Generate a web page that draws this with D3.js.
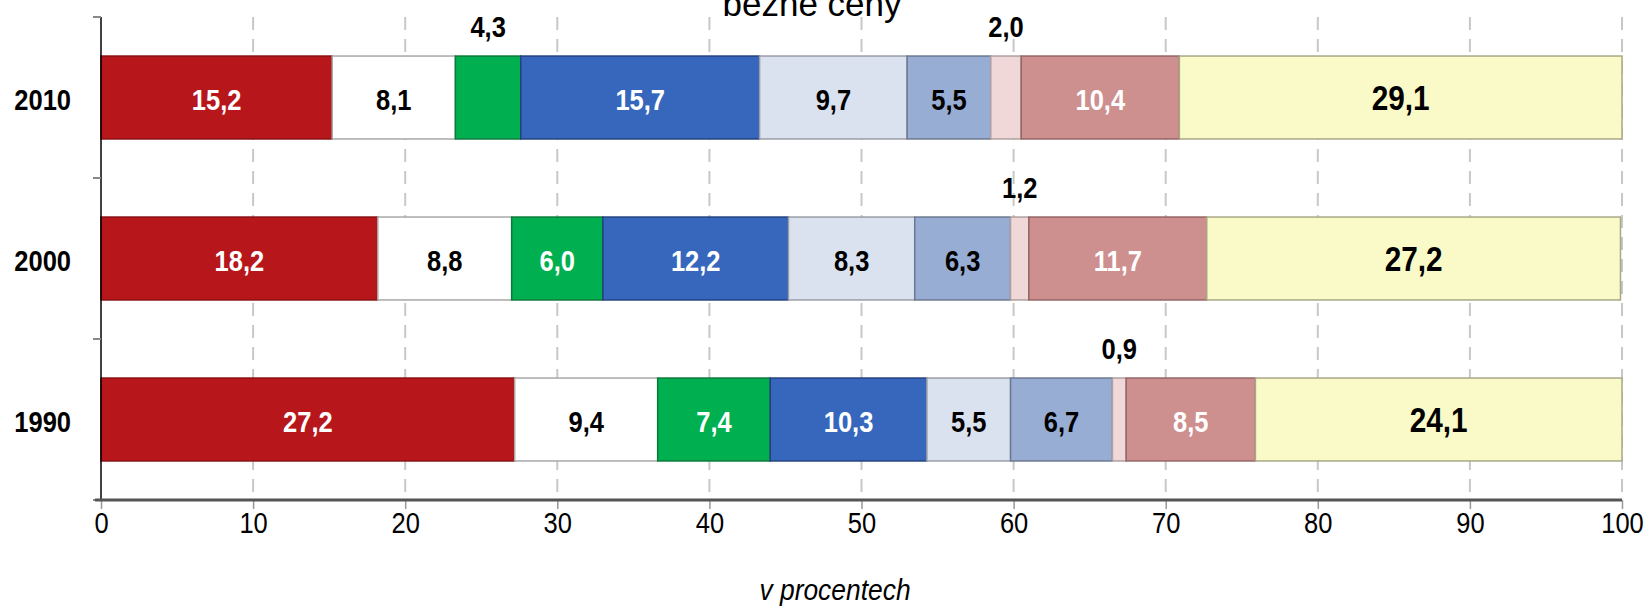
<!DOCTYPE html>
<html>
<head>
<meta charset="utf-8">
<script src="https://cdn.jsdelivr.net/npm/d3@7"></script>
<style>
body { margin: 0; background: #fff; }
svg text { font-family: "Liberation Sans", Arial, sans-serif; }
</style>
</head>
<body>
<svg id="chart" width="1646" height="610"></svg>
<script>
// data
var years = ["2010", "2000", "1990"];
var values2010 = [15.2, 8.1, 4.3, 15.7, 9.7, 5.5, 2.0, 10.4, 29.1];
var values2000 = [18.2, 8.8, 6.0, 12.2, 8.3, 6.3, 1.2, 11.7, 27.2];
var values1990 = [27.2, 9.4, 7.4, 10.3, 5.5, 6.7, 0.9, 8.5, 24.1];
var xTicks = [0, 10, 20, 30, 40, 50, 60, 70, 80, 90, 100];
var chartTitle = "běžné ceny";
var xTitle = "v procentech";

var segmentColors = ["#B7161A", "#FFFFFF", "#00B050", "#3767BD", "#DBE2EF",
                     "#98ADD3", "#F0D8D8", "#CE8F8F", "#FAFAC8"];
var segmentStrokes = ["#8a1013", "#a8a8a8", "#0a7a3a", "#23427f", "#9a9ea8",
                      "#6a7890", "#b0a0a0", "#946464", "#a8a888"];
var labelColors = ["#fff", "#000", "#fff", "#fff", "#000", "#000", "#000", "#fff", "#000"];

var rows = [values2010, values2000, values1990];

// no narrow font installed, so squeeze the regular one
var narrow = 0.85;

var svg = d3.select("#chart");

var x = d3.scaleLinear().domain([0, 100]).range([101, 1622]);
var y = d3.scaleBand().domain(years).range([17, 500])
    .paddingInner(0.485).paddingOuter(0.2425);

// dashed vertical grid
svg.append("g")
    .selectAll("line")
    .data(xTicks.slice(1))
    .enter()
    .append("line")
    .attr("x1", function (d) { return x(d); })
    .attr("x2", function (d) { return x(d); })
    .attr("y1", 17)
    .attr("y2", 500)
    .attr("stroke", "#c8c8c8")
    .attr("stroke-width", 2)
    .attr("stroke-dasharray", "13,9");

// stacked segments
var segData = [];
rows.forEach(function (vals, r) {
    var start = 0;
    vals.forEach(function (v, i) {
        segData.push({ year: years[r], i: i, v: v, x0: start, x1: start + v });
        start += v;
    });
});

svg.append("g")
    .selectAll("rect")
    .data(segData)
    .enter()
    .append("rect")
    .attr("x", function (d) { return x(d.x0); })
    .attr("width", function (d) { return x(d.x1) - x(d.x0); })
    .attr("y", function (d) { return y(d.year); })
    .attr("height", y.bandwidth())
    .attr("fill", function (d) { return segmentColors[d.i]; })
    .attr("stroke", function (d) { return segmentStrokes[d.i]; })
    .attr("stroke-width", 1.5);

// value labels
svg.append("g")
    .selectAll("text")
    .data(segData)
    .enter()
    .append("text")
    .attr("transform", function (d) {
        var ty = d.v < 5 ? y(d.year) - 19 : y(d.year) + y.bandwidth() / 2 + 12;
        return "translate(" + x((d.x0 + d.x1) / 2) + "," + ty + ") scale(" + narrow + ",1)";
    })
    .attr("text-anchor", "middle")
    .attr("font-weight", "bold")
    .attr("font-size", function (d) { return d.i === 8 ? 35 : 30; })
    .attr("fill", function (d) { return d.v < 5 ? "#000" : labelColors[d.i]; })
    .text(function (d) { return d3.format(".1f")(d.v).replace(".", ","); });

// left axis with category boundary ticks
var bounds = [17, 17 + 161, 17 + 322, 500];
svg.append("line")
    .attr("x1", x(0)).attr("x2", x(0))
    .attr("y1", 17).attr("y2", 500)
    .attr("stroke", "#000").attr("stroke-width", 1.5);
svg.append("g").selectAll("line")
    .data(bounds)
    .enter()
    .append("line")
    .attr("x1", x(0) - 8).attr("x2", x(0))
    .attr("y1", function (d) { return d; })
    .attr("y2", function (d) { return d; })
    .attr("stroke", "#888").attr("stroke-width", 2);

svg.append("g").selectAll("text")
    .data(years)
    .enter()
    .append("text")
    .attr("transform", function (d) {
        return "translate(71," + (y(d) + y.bandwidth() / 2 + 12) + ") scale(" + narrow + ",1)";
    })
    .attr("text-anchor", "end")
    .attr("font-weight", "bold")
    .attr("font-size", 30)
    .text(function (d) { return d; });

// bottom axis
var xAxis = svg.append("g")
    .attr("transform", "translate(0,500)")
    .call(d3.axisBottom(x).tickValues(xTicks).tickSize(9).tickPadding(3));
xAxis.select(".domain").remove();
xAxis.selectAll(".tick line").attr("stroke", "#999").attr("stroke-width", 1.5);
xAxis.selectAll(".tick text")
    .attr("font-size", 30)
    .attr("fill", "#000")
    .attr("transform", "scale(" + narrow + ",1)")
    .style("font-family", '"Liberation Sans", Arial, sans-serif');
svg.append("line")
    .attr("x1", x(0) - 6).attr("x2", x(100))
    .attr("y1", 500).attr("y2", 500)
    .attr("stroke", "#555").attr("stroke-width", 3);

svg.append("text")
    .attr("transform", "translate(835,600) scale(0.88,1)")
    .attr("text-anchor", "middle")
    .attr("font-style", "italic")
    .attr("font-size", 30)
    .text(xTitle);

svg.append("text")
    .attr("x", 812)
    .attr("y", 16)
    .attr("text-anchor", "middle")
    .attr("font-size", 35)
    .text(chartTitle);
</script>
</body>
</html>
